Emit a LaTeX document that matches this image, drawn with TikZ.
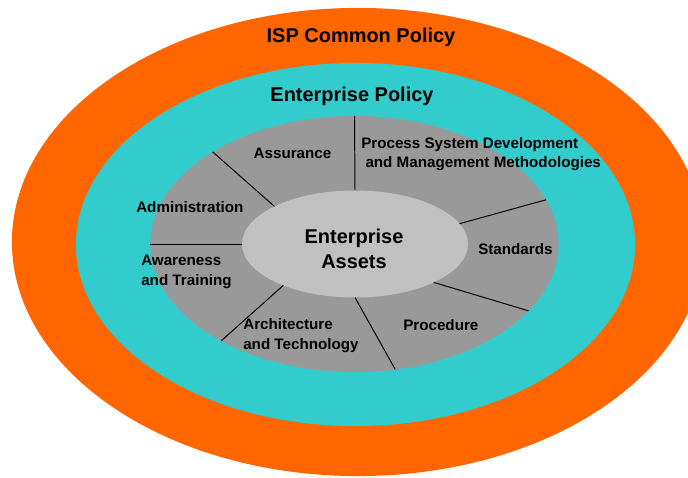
\documentclass[tikz,border=0pt]{standalone}
\usepackage{fontspec}
\setmainfont{Liberation Sans}
\usetikzlibrary{shapes.geometric}
\definecolor{ispOrange}{HTML}{FF6600}
\definecolor{entTeal}{HTML}{33CCCC}
\definecolor{ringGray}{HTML}{999999}
\definecolor{coreGray}{HTML}{C0C0C0}
\begin{document}
\begin{tikzpicture}[x=0.025cm,y=-0.025cm,
  band/.style={ellipse,inner sep=0pt,outer sep=0pt,draw=none},
  divider/.style={line width=0.7pt},
  lbl/.style={font=\fontsize{10.8}{13.6}\selectfont\bfseries,inner sep=0pt,align=left},
  title/.style={font=\fontsize{14.2}{17.7}\selectfont\bfseries,inner sep=0pt,align=center}]
\useasboundingbox (0,0) rectangle (688,478);
\clip (0,0) rectangle (688,478);

\node[band,fill=ispOrange,minimum width=17.3cm,minimum height=11.7cm] (isp) at (358,242) {};
\node[band,fill=entTeal,minimum width=13.975cm,minimum height=9.075cm] (policy) at (355.5,244.5) {};
\node[band,fill=ringGray,minimum width=10.2cm,minimum height=6.4cm] (ring) at (354.5,244) {};
\node[band,fill=coreGray,minimum width=5.65cm,minimum height=2.675cm] (assets) at (355,244) {};

\draw[divider] (assets.90) -- (ring.90);
\draw[divider] (assets.155) -- (ring.147.5);
\draw[divider] (assets.180) -- (ring.180);
\draw[divider] (assets.210.7) -- (ring.216.5);
\draw[divider] (assets.270) -- (ring.288.8);
\draw[divider] (assets.334.6) -- (ring.339.6);
\draw[divider] (assets.11.4) -- (ring.13.1);

\node[title,anchor=base] (ispT) at (361,43) {ISP Common Policy};
\node[title,anchor=base] (policyT) at (352,101.5) {Enterprise Policy};
\node[title,anchor=base] (assetsT) at (354,268) {Enterprise\\Assets};

\node[lbl,anchor=base] (assurance) at (292.5,159) {Assurance};
\node[lbl,anchor=base west] (process) at (361,167.7) {Process System Development\\\hspace*{3pt}and Management Methodologies};
\node[lbl,anchor=base west] (admin) at (136,212) {Administration};
\node[lbl,anchor=base west] (standards) at (478,254) {Standards};
\node[lbl,anchor=base west] (awareness) at (141,285) {Awareness\\and Training};
\node[lbl,anchor=base west] (arch) at (243,349) {Architecture\\and Technology};
\node[lbl,anchor=base west] (procedure) at (403,330) {Procedure};
\end{tikzpicture}
\end{document}
